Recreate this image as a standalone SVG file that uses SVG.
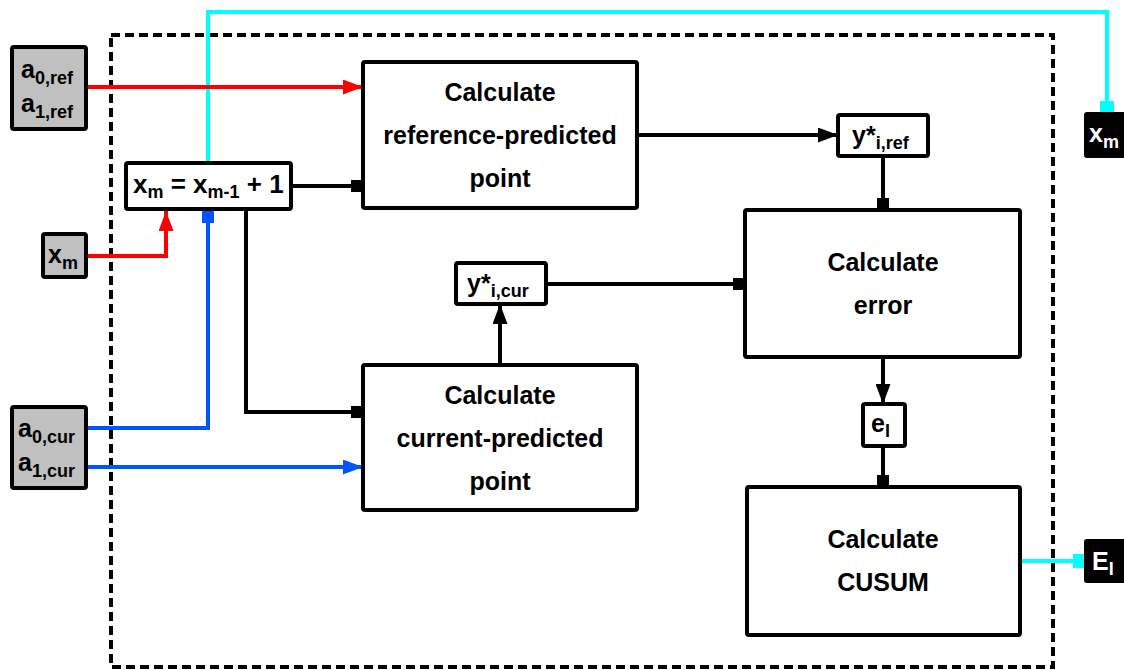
<svg xmlns="http://www.w3.org/2000/svg" width="1124" height="670" viewBox="0 0 1124 670">
<defs>
<style>
text{font-family:"Liberation Sans",Arial,sans-serif;font-weight:bold;fill:#000}
.t{font-size:25px;text-anchor:middle}
.s{font-size:18px}
.box{fill:#fff;stroke:#000;stroke-width:4}
.in{fill:#c0c0c0;stroke:#000;stroke-width:4}
.out{fill:#000;stroke:#000;stroke-width:2}
.k{fill:none;stroke:#000;stroke-width:4}
.r{fill:none;stroke:#ff0000;stroke-width:4}
.b{fill:none;stroke:#0055ff;stroke-width:4}
.c{fill:none;stroke:#00ffff;stroke-width:4}
</style>
<marker id="ak" markerUnits="userSpaceOnUse" markerWidth="20" markerHeight="15" refX="20" refY="7.5" orient="auto"><path d="M0,0 L20,7.5 L0,15 Z" fill="#000"/></marker>
<marker id="ar" markerUnits="userSpaceOnUse" markerWidth="20" markerHeight="15" refX="20" refY="7.5" orient="auto"><path d="M0,0 L20,7.5 L0,15 Z" fill="#ff0000"/></marker>
<marker id="ab" markerUnits="userSpaceOnUse" markerWidth="20" markerHeight="15" refX="20" refY="7.5" orient="auto"><path d="M0,0 L20,7.5 L0,15 Z" fill="#0055ff"/></marker>
<marker id="sk" markerUnits="userSpaceOnUse" markerWidth="12" markerHeight="12" refX="12" refY="6" orient="auto"><rect width="12" height="12" fill="#000"/></marker>
<marker id="sb" markerUnits="userSpaceOnUse" markerWidth="12" markerHeight="12" refX="12" refY="6" orient="auto"><rect width="12" height="12" fill="#0055ff"/></marker>
<marker id="sc" markerUnits="userSpaceOnUse" markerWidth="12" markerHeight="14" refX="12" refY="7" orient="auto"><rect width="12" height="14" fill="#00ffff"/></marker>
</defs>
<rect width="1124" height="670" fill="#fff"/>
<rect x="111" y="35" width="942" height="632" fill="none" stroke="#000" stroke-width="4" stroke-dasharray="9 5"/>
<g id="connectors">
<path class="c" d="M208,163 V12 H1107 V113" marker-end="url(#sc)"/>
<path class="r" d="M86,87 H363" marker-end="url(#ar)"/>
<path class="r" d="M86,256 H166 V211" marker-end="url(#ar)"/>
<path class="b" d="M86,428 H208 V211" marker-end="url(#sb)"/>
<path class="b" d="M86,467 H363" marker-end="url(#ab)"/>
<path class="k" d="M291,186 H363" marker-end="url(#sk)"/>
<path class="k" d="M246,209 V412 H363" marker-end="url(#sk)"/>
<path class="k" d="M637,135 H838" marker-end="url(#ak)"/>
<path class="k" d="M883,156 V210" marker-end="url(#sk)"/>
<path class="k" d="M500,365 V304" marker-end="url(#ak)"/>
<path class="k" d="M546,284 H745" marker-end="url(#sk)"/>
<path class="k" d="M883,357 V404" marker-end="url(#ak)"/>
<path class="k" d="M883,446 V487" marker-end="url(#sk)"/>
<path class="c" d="M1020,561 H1085" marker-end="url(#sc)"/>
</g>
<g id="in-aref">
<rect class="in" x="12" y="47" width="74" height="82" rx="2"/>
<text x="21" y="78" font-size="25">a<tspan class="s" dy="6">0,ref</tspan></text>
<text x="21" y="112" font-size="25">a<tspan class="s" dy="6">1,ref</tspan></text>
</g>
<g id="in-xm">
<rect class="in" x="43" y="234" width="43" height="43" rx="2"/>
<text x="48" y="263" font-size="25">x<tspan class="s" dy="6">m</tspan></text>
</g>
<g id="in-acur">
<rect class="in" x="12" y="407" width="74" height="81" rx="2"/>
<text x="18" y="437" font-size="25">a<tspan class="s" dy="6">0,cur</tspan></text>
<text x="18" y="471" font-size="25">a<tspan class="s" dy="6">1,cur</tspan></text>
</g>
<g id="incr">
<rect class="box" x="126" y="163" width="165" height="46" rx="2"/>
<text x="133" y="193" font-size="26">x<tspan class="s" dy="5">m</tspan><tspan dy="-5"> = x</tspan><tspan class="s" dy="5">m-1</tspan><tspan dy="-5"> + 1</tspan></text>
</g>
<g id="calc-ref">
<rect class="box" x="363" y="62" width="274" height="146" rx="2"/>
<text class="t" x="500" y="101">Calculate</text>
<text class="t" x="500" y="144">reference-predicted</text>
<text class="t" x="500" y="187">point</text>
</g>
<g id="calc-cur">
<rect class="box" x="363" y="365" width="274" height="145" rx="2"/>
<text class="t" x="500" y="404">Calculate</text>
<text class="t" x="500" y="447">current-predicted</text>
<text class="t" x="500" y="490">point</text>
</g>
<g id="yref">
<rect class="box" x="838" y="115" width="90" height="41" rx="2"/>
<text x="852" y="144" font-size="25">y*<tspan class="s" dy="5">i,ref</tspan></text>
</g>
<g id="ycur">
<rect class="box" x="456" y="263" width="90" height="41" rx="2"/>
<text x="467" y="292" font-size="25">y*<tspan class="s" dy="5">i,cur</tspan></text>
</g>
<g id="calc-err">
<rect class="box" x="745" y="210" width="275" height="147" rx="2"/>
<text class="t" x="883" y="271">Calculate</text>
<text class="t" x="883" y="314">error</text>
</g>
<g id="ei">
<rect class="box" x="863" y="404" width="42" height="42" rx="2"/>
<text x="871" y="432" font-size="25">e<tspan class="s" dy="5">I</tspan></text>
</g>
<g id="calc-cusum">
<rect class="box" x="747" y="487" width="273" height="148" rx="2"/>
<text class="t" x="883" y="548">Calculate</text>
<text class="t" x="883" y="591">CUSUM</text>
</g>
<g id="out-xm">
<rect class="out" x="1085" y="113" width="42" height="44" rx="2"/>
<text x="1089" y="142" font-size="25" style="fill:#fff">x<tspan class="s" dy="6">m</tspan></text>
</g>
<g id="out-ei">
<rect class="out" x="1085" y="540" width="42" height="42" rx="2"/>
<text x="1092" y="570" font-size="25" style="fill:#fff">E<tspan class="s" dy="5">I</tspan></text>
</g>
</svg>
